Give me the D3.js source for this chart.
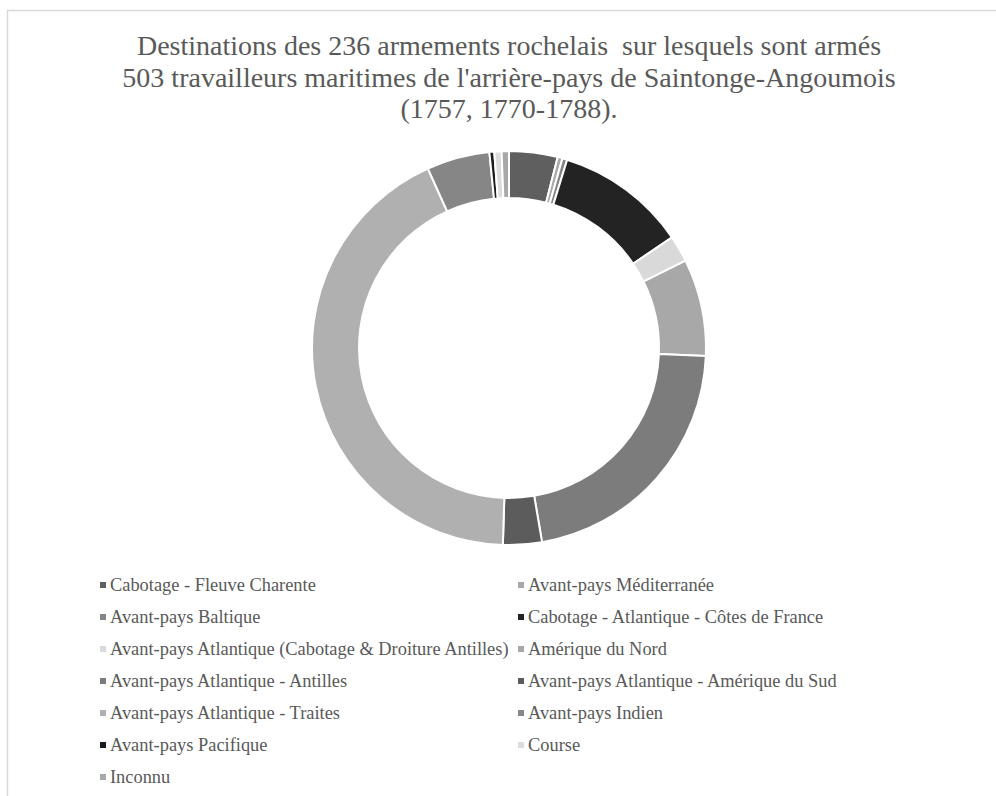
<!DOCTYPE html>
<html>
<head>
<meta charset="utf-8">
<script src="https://cdn.jsdelivr.net/npm/d3@7"></script>
<style>
  html, body { margin: 0; padding: 0; background: #ffffff; }
  svg { display: block; }
</style>
</head>
<body>
<script>
const categories = [
  "Cabotage - Fleuve Charente",
  "Avant-pays Méditerranée",
  "Avant-pays Baltique",
  "Cabotage - Atlantique - Côtes de France",
  "Avant-pays Atlantique (Cabotage & Droiture Antilles)",
  "Amérique du Nord",
  "Avant-pays Atlantique - Antilles",
  "Avant-pays Atlantique - Amérique du Sud",
  "Avant-pays Atlantique - Traites",
  "Avant-pays Indien",
  "Avant-pays Pacifique",
  "Course",
  "Inconnu"
];
const values = [20, 2, 2, 54, 11, 40, 109, 16, 215, 26, 2, 3, 3];
const colors = ["#5f5f5f", "#a8a8a8", "#858585", "#232323", "#d9d9d9", "#a8a8a8",
                "#7c7c7c", "#5c5c5c", "#b0b0b0", "#868686", "#1c1c1c", "#dcdcdc", "#a8a8a8"];
const titleLines = [
  "Destinations des 236 armements rochelais  sur lesquels sont armés",
  "503 travailleurs maritimes de l'arrière-pays de Saintonge-Angoumois",
  "(1757, 1770-1788)."
];

// pick an installed serif font
function pickFont(candidates) {
  const c = document.createElement("canvas").getContext("2d");
  const sample = "Destinations des 236 armements mmmWWiil";
  c.font = "40px monospace";
  const base = c.measureText(sample).width;
  for (const f of candidates) {
    c.font = `40px "${f}", monospace`;
    if (Math.abs(c.measureText(sample).width - base) > 0.5) return `"${f}"`;
  }
  return "serif";
}
const FONT = pickFont(["Liberation Serif", "Tinos", "Times New Roman", "Nimbus Roman", "DejaVu Serif"]) + ", serif";

const W = 996, H = 796;
const svg = d3.select("body").append("svg").attr("width", W).attr("height", H);

// chart frame (clipped by the window on right/bottom)
svg.append("rect")
  .attr("x", 7.5).attr("y", 10.5)
  .attr("width", W + 20).attr("height", H + 20)
  .attr("fill", "#ffffff")
  .attr("stroke", "#d9d9d9").attr("stroke-width", 1.5);

// title
const title = svg.append("g")
  .style("font-family", FONT)
  .style("font-size", "28px")
  .attr("fill", "#595959")
  .attr("text-anchor", "middle");
const titleY = [55, 87, 118];
titleLines.forEach((t, i) => {
  title.append("text")
    .attr("x", 509).attr("y", titleY[i])
    .style("white-space", "pre")
    .text(t);
});

// donut
const cx = 509, cy = 348, rOuter = 197, rInner = 150;
const pie = d3.pie().sort(null).value(d => d.value).startAngle(0).endAngle(2 * Math.PI);
const arc = d3.arc().innerRadius(rInner).outerRadius(rOuter);
const data = categories.map((c, i) => ({ name: c, value: values[i] }));
const color = d3.scaleOrdinal().domain(categories).range(colors);

svg.append("g")
  .attr("transform", `translate(${cx},${cy})`)
  .selectAll("path")
  .data(pie(data))
  .join("path")
  .attr("d", arc)
  .attr("fill", d => color(d.data.name))
  .attr("stroke", "#ffffff")
  .attr("stroke-width", 2)
  .attr("stroke-linejoin", "miter");

// legend
const colX = [100, 518];
const rowY0 = 585, rowStep = 32;
const legend = svg.append("g")
  .style("font-family", FONT)
  .style("font-size", "18.4px")
  .attr("fill", "#595959");
categories.forEach((c, i) => {
  const col = i % 2, row = Math.floor(i / 2);
  const x = colX[col], y = rowY0 + row * rowStep;
  legend.append("rect")
    .attr("x", x).attr("y", y - 3)
    .attr("width", 6).attr("height", 6)
    .attr("fill", color(c));
  legend.append("text")
    .attr("x", x + 10).attr("y", y)
    .attr("dy", "0.35em")
    .text(c);
});
</script>
</body>
</html>
